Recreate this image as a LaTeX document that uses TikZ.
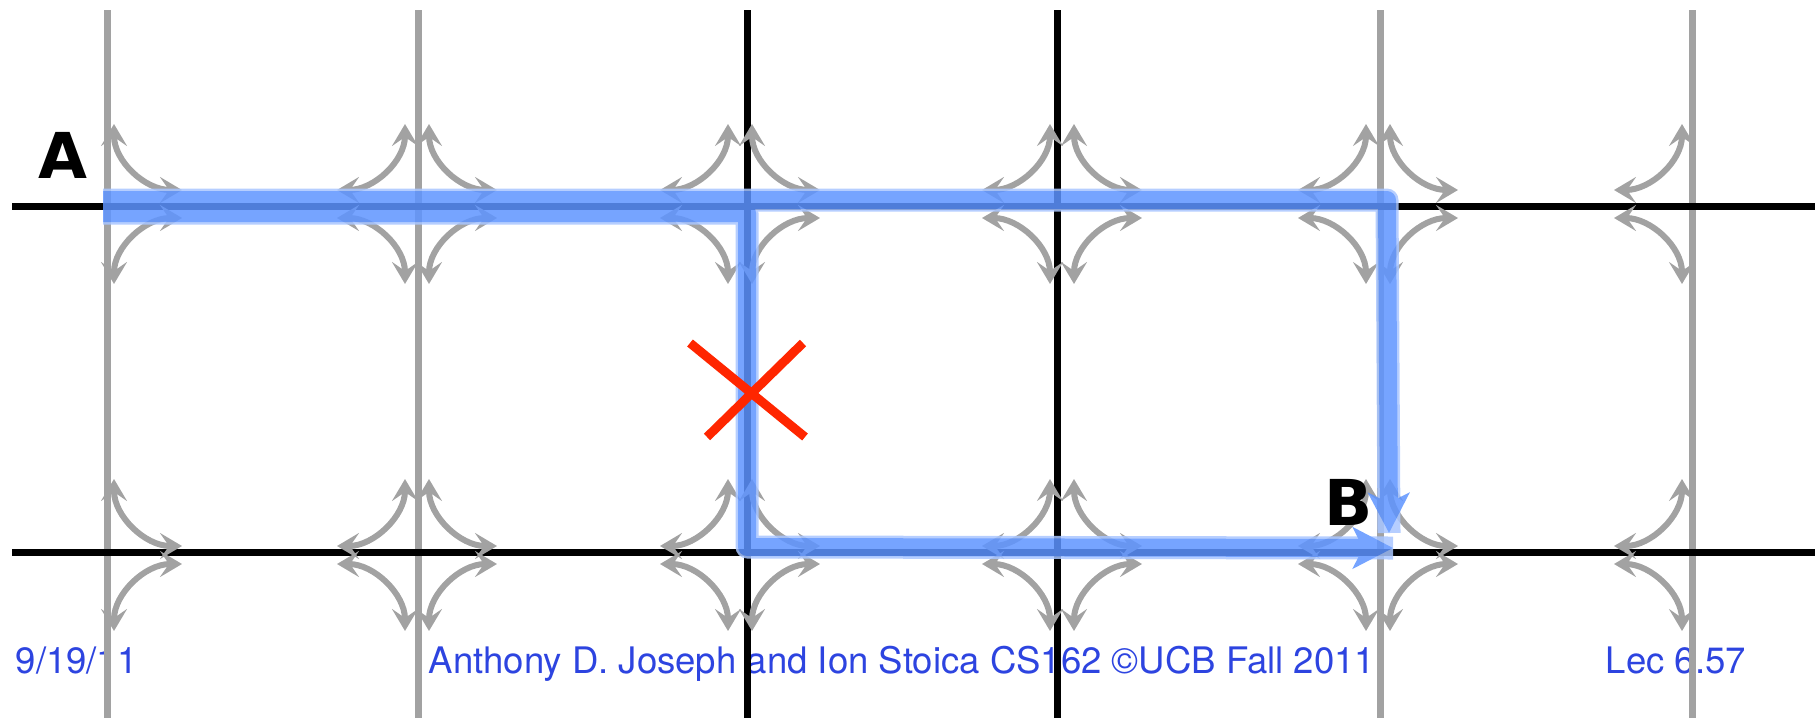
\documentclass[tikz,border=0pt]{standalone}
\usepackage{fontspec}
\setmainfont{TeX Gyre Heros}
\newfontfamily\markfont{DejaVu Sans}
\usetikzlibrary{arrows.meta,calc}
\definecolor{grid300} {HTML}{A2A2A2}
\definecolor{route500}{HTML}{5E94FF}
\definecolor{route200}{HTML}{A9C6FF}
\definecolor{cut600}  {HTML}{FF2600}
\definecolor{foot600} {HTML}{2D44E0}
\tikzset{
  turntip/.tip  ={Stealth[length=2.2mm, width=2.6mm, inset=0.9mm]},
  routetip/.tip ={Stealth[length=4mm, width=4.1mm, inset=1mm]},
  link/.style   ={draw=black, line width=0.7mm},
  linkg/.style  ={draw=grid300, line width=0.7mm},
  turn/.style   ={turntip-turntip, draw=grid300, line width=0.6mm},
  glow/.style   ={draw=route200, line width=2.3mm, line join=round},
  route/.style  ={-routetip, draw=route500, line width=1.8mm,
                  line join=round},
  cut/.style    ={draw=cut600, line width=0.9mm},
  endpt/.style  ={font=\markfont\bfseries\fontsize{18}{18}\selectfont,
                  inner sep=0pt},
  foot/.style   ={font=\fontsize{10.4}{12}\selectfont, text=foot600,
                  inner sep=0pt, anchor=base west}
}

\begin{document}
\begin{tikzpicture}[x=0.1mm, y=-0.1mm]
\useasboundingbox (0,0) rectangle (1820,718);

% footer
\node[foot] (date)   at (15,673)   {9/19/11};
\node[foot] (credit) at (428,673)  {Anthony D. Joseph and Ion Stoica CS162 ©UCB Fall 2011};
\node[foot] (slide)  at (1605,673) {Lec 6.57};

% links
\foreach \x in {107,418,1380,1692}
  \draw[linkg] (\x,10) -- (\x,718);
\foreach \x in {747,1057}
  \draw[link] (\x,10) -- (\x,718);
\foreach \y in {206,552}
  \draw[link] (12,\y) -- (1815,\y);

% turning paths at each switch
\foreach \cy/\V/\H in {204/80/14, 555/76/9} {
  \foreach \cx/\sides in {102/{1}, 417/{-1,1}, 740/{-1,1},
                          1062/{-1,1}, 1378/{-1,1}, 1694/{-1}} {
    \foreach \sx in \sides {
      \foreach \sy in {-1,1}
        \draw[turn] ({\cx+12*(\sx)}, {\cy+\V*(\sy)})
          .. controls +(0,{-37*(\sy)}) and +({-37*(\sx)},0)
          .. ({\cx+80*(\sx)}, {\cy+\H*(\sy)});
    }
  }
}

% routes from A to B
\coordinate (srcLow)   at (103,213);
\coordinate (bendCut)  at (747,213);
\coordinate (bendDown) at (747,547);
\coordinate (dstLow)   at (1393,548);
\coordinate (srcHigh)  at (103,200);
\coordinate (bendFar)  at (1387,200);
\coordinate (dstHigh)  at (1389,533);
\begin{scope}[transparency group, opacity=0.85]
  \draw[glow] (srcLow) -- (bendCut) -- (bendDown) -- (dstLow);
  \draw[glow] (srcHigh) -- (bendFar) -- (dstHigh);
  \draw[route] (srcLow) -- (bendCut) -- (bendDown) -- (dstLow);
  \draw[route] (srcHigh) -- (bendFar) -- (dstHigh);
\end{scope}

% failed link
\draw[cut] (690,343) -- (805,437);
\draw[cut] (803,343) -- (707,437);

\node[endpt] (A) at (63,155)   {A};
\node[endpt] (B) at (1349,502) {B};
\end{tikzpicture}
\end{document}
